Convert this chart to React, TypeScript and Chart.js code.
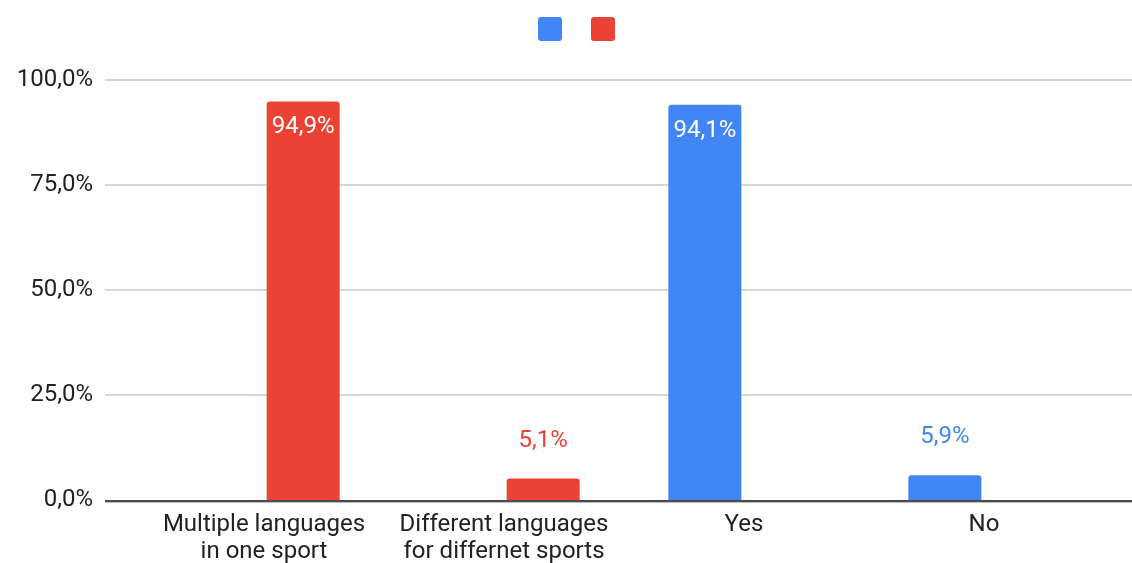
import React, { useEffect, useRef } from 'react';
import { Chart, registerables } from 'chart.js';

Chart.register(...registerables);

// ---- data ----
const categories: (string | string[])[] = [
  ['Multiple languages', 'in one sport'],
  ['Different languages', 'for differnet sports'],
  'Yes',
  'No',
];
const blueValues: (number | null)[] = [null, null, 94.1, 5.9];
const redValues: (number | null)[] = [94.9, 5.1, null, null];
const yTickValues = [0, 25, 50, 75, 100];

// ---- styles ----
const BLUE = '#4285f4';
const RED = '#ea4335';
const FONT = 'Roboto, "Noto Sans", sans-serif';
const TEXT = '#222222';
const GRID_LEFT = 105;
const FS = 24;
const W = 1132;
const H = 563;

const fmt = (v: number) => v.toFixed(1).replace('.', ',') + '%';

const legendHeightPlugin = {
  id: 'legendHeight',
  beforeUpdate(chart: any) {
    const lg = chart.legend;
    if (lg && !lg.__wrapped) {
      const orig = lg.fit;
      lg.fit = function () {
        orig.call(this);
        this.height = 80;
      };
      lg.__wrapped = true;
    }
  },
};

const gridPlugin = {
  id: 'customGrid',
  beforeDatasetsDraw(chart: any) {
    const { ctx } = chart;
    const y = chart.scales.y;
    ctx.save();
    y.ticks.forEach((t: any) => {
      if (t.value === 0) return;
      const py = Math.round(y.getPixelForValue(t.value));
      ctx.fillStyle = '#d6d6d6';
      ctx.fillRect(GRID_LEFT, py - 1, chart.width - GRID_LEFT, 2);
    });
    ctx.restore();
  },
  afterDatasetsDraw(chart: any) {
    const { ctx } = chart;
    const y = chart.scales.y;
    const p0 = Math.round(y.getPixelForValue(0));
    ctx.save();
    ctx.fillStyle = '#4a4a4a';
    ctx.fillRect(GRID_LEFT, p0, chart.width - GRID_LEFT, 2);
    ctx.fillStyle = '#c0c0c0';
    ctx.fillRect(GRID_LEFT, p0 + 2, chart.width - GRID_LEFT, 1);
    ctx.restore();
  },
};

const dataLabelPlugin = {
  id: 'dataLabels',
  afterDraw(chart: any) {
    const { ctx } = chart;
    ctx.save();
    ctx.font = `${FS}px ${FONT}`;
    ctx.textAlign = 'center';
    ctx.textBaseline = 'middle';
    chart.data.datasets.forEach((ds: any, di: number) => {
      const meta = chart.getDatasetMeta(di);
      meta.data.forEach((el: any, i: number) => {
        const v = ds.data[i];
        if (v == null) return;
        const inside = v > 20;
        ctx.fillStyle = inside ? '#ffffff' : ds.backgroundColor;
        ctx.fillText(fmt(v), el.x, inside ? el.y + 26 : el.y - 38);
      });
    });
    ctx.restore();
  },
};

export default function App() {
  const ref = useRef<HTMLCanvasElement | null>(null);

  useEffect(() => {
    if (!ref.current) return;
    const chart = new Chart(ref.current, {
      type: 'bar',
      data: {
        labels: categories as any,
        datasets: [
          {
            label: '',
            data: blueValues,
            backgroundColor: BLUE,
            borderWidth: 0,
            borderRadius: { topLeft: 3, topRight: 3, bottomLeft: 0, bottomRight: 0 },
            borderSkipped: false,
            categoryPercentage: 0.6525,
            barPercentage: 0.932,
          } as any,
          {
            label: '',
            data: redValues,
            backgroundColor: RED,
            borderWidth: 0,
            borderRadius: { topLeft: 3, topRight: 3, bottomLeft: 0, bottomRight: 0 },
            borderSkipped: false,
            categoryPercentage: 0.6525,
            barPercentage: 0.932,
          } as any,
        ],
      },
      options: {
        responsive: false,
        animation: false,
        layout: { padding: { left: 64, right: 28, top: 0, bottom: 0 } },
        plugins: {
          legend: {
            display: true,
            position: 'top',
            align: 'center',
            labels: {
              boxWidth: 24,
              boxHeight: 24,
              padding: 14,
              useBorderRadius: true,
              borderRadius: 3,
              font: { size: 30, family: FONT },
            },
          },
          tooltip: { enabled: false },
        },
        scales: {
          x: {
            type: 'category',
            offset: true,
            grid: { display: false, drawTicks: false },
            border: { display: false },
            ticks: {
              color: TEXT,
              font: { size: FS, family: FONT, lineHeight: 1.125 },
              padding: 11,
              maxRotation: 0,
              autoSkip: false,
            },
            afterFit: (s: any) => {
              s.height = 63;
            },
          },
          y: {
            min: 0,
            max: 100,
            grid: { display: false, drawTicks: false },
            border: { display: false },
            afterBuildTicks: (s: any) => {
              s.ticks = yTickValues.map((v) => ({ value: v }));
            },
            ticks: {
              color: TEXT,
              font: { size: FS, family: FONT },
              padding: 51,
              callback: (v: any) => fmt(Number(v)),
            },
            afterFit: (s: any) => {
              s.width = 80;
              // tick padding should not reserve vertical space above/below the plot
              s.paddingTop = 0;
              s.paddingBottom = 0;
              // let tick labels extend left of the axis box without clipping
              s._computeLabelArea = () => undefined;
            },
          },
        },
      },
      plugins: [legendHeightPlugin, gridPlugin, dataLabelPlugin],
    });
    return () => chart.destroy();
  }, []);

  return (
    <div style={{ position: 'fixed', left: 0, top: 0, width: W, height: H, background: '#fff' }}>
      <canvas ref={ref} width={W} height={H} style={{ display: 'block' }} />
    </div>
  );
}
